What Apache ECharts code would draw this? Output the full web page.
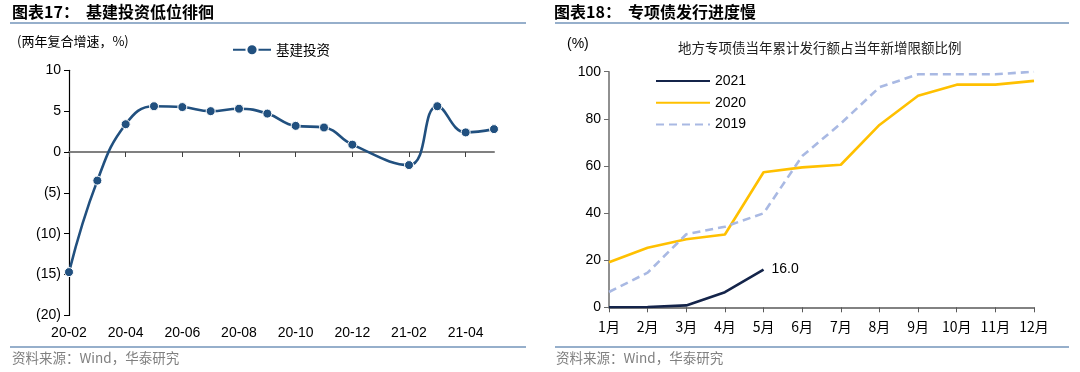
<!DOCTYPE html>
<html>
<head>
<meta charset="utf-8">
<script src="https://cdn.jsdelivr.net/npm/echarts@6/dist/echarts.min.js"></script>
<style>
html,body{margin:0;padding:0;background:#fff;}
#c{width:1080px;height:372px;}
</style>
</head>
<body>
<div id="c"></div>
<script>
// Left chart data
var leftMonths = ['20-02','20-03','20-04','20-05','20-06','20-07','20-08','20-09','20-10','20-11','20-12','21-01','21-02','21-03','21-04','21-05'];
var infraInvest = [-14.7, -3.5, 3.4, 5.6, 5.5, 5.0, 5.3, 4.7, 3.2, 3.0, 0.9, null, -1.6, 5.6, 2.4, 2.8];
var leftYTicks = {min: -20, max: 10, interval: 5};

// Right chart data
var rightMonths = ['1月','2月','3月','4月','5月','6月','7月','8月','9月','10月','11月','12月'];
var bond2021 = [0.0, 0.1, 0.8, 6.4, 16.0];
var bond2020 = [19.1, 25.3, 28.9, 30.9, 57.3, 59.4, 60.5, 77.4, 89.8, 94.5, 94.5, 96.1];
var bond2019 = [6.5, 14.7, 31.0, 34.2, 39.9, 64.2, 78.0, 93.4, 98.9, 98.9, 98.9, 100.0];
var rightYTicks = {min: 0, max: 100, interval: 20};

var CJK = '"Noto Sans CJK SC", "Liberation Sans", sans-serif';
var LAT = '"Liberation Sans", Arial, "Noto Sans CJK SC", sans-serif';
var ruleColor = '#7394BA';

var chart = echarts.init(document.getElementById('c'), null, {renderer: 'canvas'});

var option = {
  animation: false,
  backgroundColor: '#fff',
  textStyle: {fontFamily: LAT},
  graphic: [
    {type: 'text', left: 12, top: 4, style: {text: '图表17：', font: 'bold 16px ' + CJK, fill: '#000'}},
    {type: 'text', left: 86, top: 4, style: {text: '基建投资低位徘徊', font: 'bold 16px ' + CJK, fill: '#000'}},
    {type: 'line', shape: {x1: 10, y1: 23, x2: 526, y2: 23}, style: {stroke: ruleColor, lineWidth: 1.5}},
    {type: 'text', left: 554, top: 4, style: {text: '图表18：', font: 'bold 16px ' + CJK, fill: '#000'}},
    {type: 'text', left: 628, top: 4, style: {text: '专项债发行进度慢', font: 'bold 16px ' + CJK, fill: '#000'}},
    {type: 'line', shape: {x1: 555, y1: 23, x2: 1069, y2: 23}, style: {stroke: ruleColor, lineWidth: 1.5}},
    {type: 'text', left: 17, top: 35, style: {text: '(两年复合增速，%)', font: '13px ' + CJK, fill: '#000'}},
    {type: 'text', left: 567, top: 37, style: {text: '(%)', font: '14px ' + LAT, fill: '#000'}},
    {type: 'text', left: 678, top: 41, style: {text: '地方专项债当年累计发行额占当年新增限额比例', font: '13.5px ' + CJK, fill: '#222'}},
    {type: 'line', shape: {x1: 10, y1: 347, x2: 526, y2: 347}, style: {stroke: ruleColor, lineWidth: 1.5}},
    {type: 'line', shape: {x1: 555, y1: 347, x2: 1069, y2: 347}, style: {stroke: ruleColor, lineWidth: 1.5}},
    {type: 'text', left: 12, top: 351, style: {text: '资料来源：Wind，华泰研究', font: '13.5px ' + CJK, fill: '#808080'}},
    {type: 'text', left: 556, top: 351, style: {text: '资料来源：Wind，华泰研究', font: '13.5px ' + CJK, fill: '#808080'}}
  ],
  legend: [
    {
      left: 227, top: 38, itemWidth: 38, itemHeight: 14, itemGap: 10,
      data: ['基建投资'],
      textStyle: {fontFamily: CJK, fontSize: 13.5, color: '#000'}
    },
    {
      left: 650, top: 69, orient: 'vertical', itemWidth: 54, itemHeight: 14, itemGap: 7.7,
      data: ['2021', '2020', '2019'],
      itemStyle: {color: 'transparent', borderWidth: 0, opacity: 0},
      textStyle: {fontFamily: LAT, fontSize: 14, color: '#000'}
    }
  ],
  grid: [
    {left: 69, top: 70.3, width: 425, height: 245.1, containLabel: false},
    {left: 609, top: 71.7, width: 425, height: 235.6, containLabel: false}
  ],
  xAxis: [
    {
      gridIndex: 0, type: 'category', data: leftMonths, boundaryGap: false,
      axisLine: {show: false, onZero: false},
      axisTick: {show: false},
      axisLabel: {interval: 1, margin: 11, fontSize: 14, color: '#000', fontFamily: LAT}
    },
    {
      gridIndex: 0, type: 'category', data: leftMonths, boundaryGap: false, position: 'bottom',
      axisLine: {show: true, onZero: true, lineStyle: {color: '#808080', width: 2}},
      axisTick: {show: true, interval: 1, length: 5, lineStyle: {color: '#404040', width: 1}},
      axisLabel: {show: false}
    },
    {
      gridIndex: 1, type: 'category', data: rightMonths, boundaryGap: false,
      axisLine: {show: true, lineStyle: {color: '#595959', width: 1.5}},
      axisTick: {show: true, length: 5, lineStyle: {color: '#595959', width: 1}},
      axisLabel: {margin: 12, fontSize: 14, color: '#000', fontFamily: CJK}
    }
  ],
  yAxis: [
    {
      gridIndex: 0, type: 'value', min: leftYTicks.min, max: leftYTicks.max, interval: leftYTicks.interval,
      axisLine: {show: true, lineStyle: {color: '#000', width: 1.2}},
      axisTick: {show: true, length: 5, lineStyle: {color: '#000'}},
      splitLine: {show: false},
      axisLabel: {
        margin: 8, fontSize: 14, color: '#000', fontFamily: LAT,
        formatter: function (v) { return v < 0 ? '(' + (-v) + ')' : String(v); }
      }
    },
    {
      gridIndex: 1, type: 'value', min: rightYTicks.min, max: rightYTicks.max, interval: rightYTicks.interval,
      axisLine: {show: true, lineStyle: {color: '#6b6b6b', width: 1.5}},
      axisTick: {show: true, length: 5, lineStyle: {color: '#6b6b6b'}},
      splitLine: {show: false},
      axisLabel: {margin: 8, fontSize: 14, color: '#000', fontFamily: LAT}
    }
  ],
  series: [
    {
      name: '基建投资', type: 'line', xAxisIndex: 0, yAxisIndex: 0,
      data: infraInvest, connectNulls: true, smooth: 0.45,
      symbol: 'circle', symbolSize: 9, showSymbol: true,
      lineStyle: {color: '#21507F', width: 2.6},
      itemStyle: {color: '#21507F', borderColor: '#fff', borderWidth: 1}
    },
    {
      name: '2021', type: 'line', xAxisIndex: 2, yAxisIndex: 1,
      data: bond2021, symbol: 'none',
      lineStyle: {color: '#14244A', width: 2.6},
      itemStyle: {color: '#14244A'},
      endLabel: {show: true, distance: 8, fontSize: 14, color: '#000', fontFamily: LAT,
        formatter: function (p) { return Number(p.value).toFixed(1); }}
    },
    {
      name: '2020', type: 'line', xAxisIndex: 2, yAxisIndex: 1,
      data: bond2020, symbol: 'none',
      lineStyle: {color: '#FFC000', width: 2.6},
      itemStyle: {color: '#FFC000'}
    },
    {
      name: '2019', type: 'line', xAxisIndex: 2, yAxisIndex: 1,
      data: bond2019, symbol: 'none',
      lineStyle: {color: '#A9B9E3', width: 2.6, type: [8, 5]},
      itemStyle: {color: '#A9B9E3'}
    }
  ]
};
chart.setOption(option);
</script>
</body>
</html>
